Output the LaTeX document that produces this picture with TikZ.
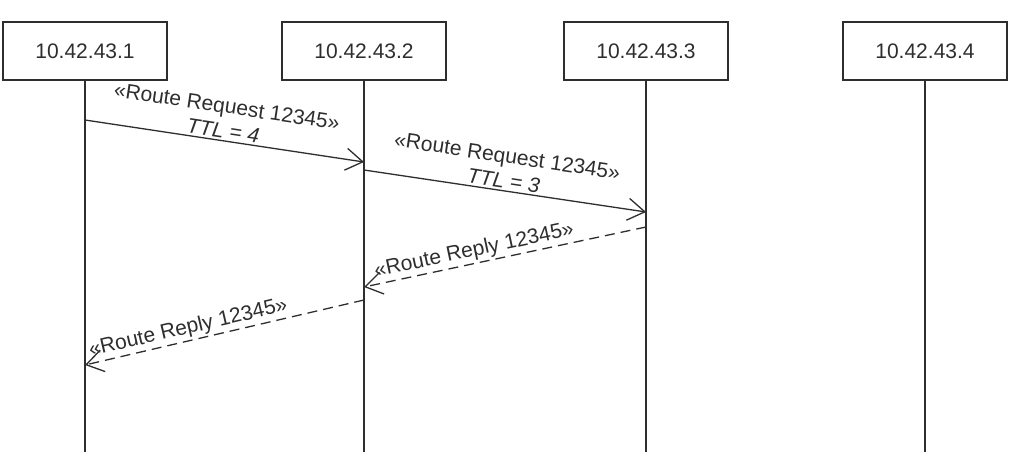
\documentclass[tikz,border=0pt]{standalone}
\usepackage{fontspec}
\setmainfont{Liberation Sans}
\usetikzlibrary{arrows.meta}
\definecolor{ink}{HTML}{2E2E2E}
\begin{document}
\begin{tikzpicture}[x=1pt,y=-1pt,
  hostbox/.style={draw=ink, line width=1.4pt, minimum width=164pt, minimum height=58pt, inner sep=0pt, text=ink, font=\fontsize{21}{24}\selectfont},
  lifeline/.style={draw=ink, line width=1.4pt},
  msg/.style={draw=ink, line width=1.3pt, -{Straight Barb[length=17pt,width=22pt,line width=1.3pt]}},
  reply/.style={msg, dash pattern=on 10pt off 6pt},
  lbl/.style={sloped, above, align=center, text=ink, inner sep=2pt, font=\fontsize{21}{25}\selectfont}]
\useasboundingbox (0,0) rectangle (1014,466);
\node[hostbox] (h1) at (85,51) {10.42.43.1};
\node[hostbox] (h2) at (364,51) {10.42.43.2};
\node[hostbox] (h3) at (646,51) {10.42.43.3};
\node[hostbox] (h4) at (925,51) {10.42.43.4};
\coordinate (e1) at (h1.south |- 0,452);
\coordinate (e2) at (h2.south |- 0,452);
\coordinate (e3) at (h3.south |- 0,452);
\coordinate (e4) at (h4.south |- 0,452);
\draw[lifeline] (h1.south) -- (e1);
\draw[lifeline] (h2.south) -- (e2);
\draw[lifeline] (h3.south) -- (e3);
\draw[lifeline] (h4.south) -- (e4);
\coordinate (r1s) at (h1.south |- 0,120);
\coordinate (r1e) at (h2.south |- 0,162);
\coordinate (r2s) at (h2.south |- 0,170);
\coordinate (r2e) at (h3.south |- 0,212);
\coordinate (p1s) at (h3.south |- 0,227);
\coordinate (p1e) at (h2.south |- 0,287);
\coordinate (p2s) at (h2.south |- 0,300);
\coordinate (p2e) at (h1.south |- 0,365);
\draw[msg] (r1s) -- node[lbl, pos=0.49] {«Route Request 12345»\\\textit{TTL = 4}} (r1e);
\draw[msg] (r2s) -- node[lbl, pos=0.49] {«Route Request 12345»\\\textit{TTL = 3}} (r2e);
\draw[reply] (p1s) -- node[lbl, pos=0.6] {«Route Reply 12345»} (p1e);
\draw[reply] (p2s) -- node[lbl, pos=0.62] {«Route Reply 12345»} (p2e);
\end{tikzpicture}
\end{document}
